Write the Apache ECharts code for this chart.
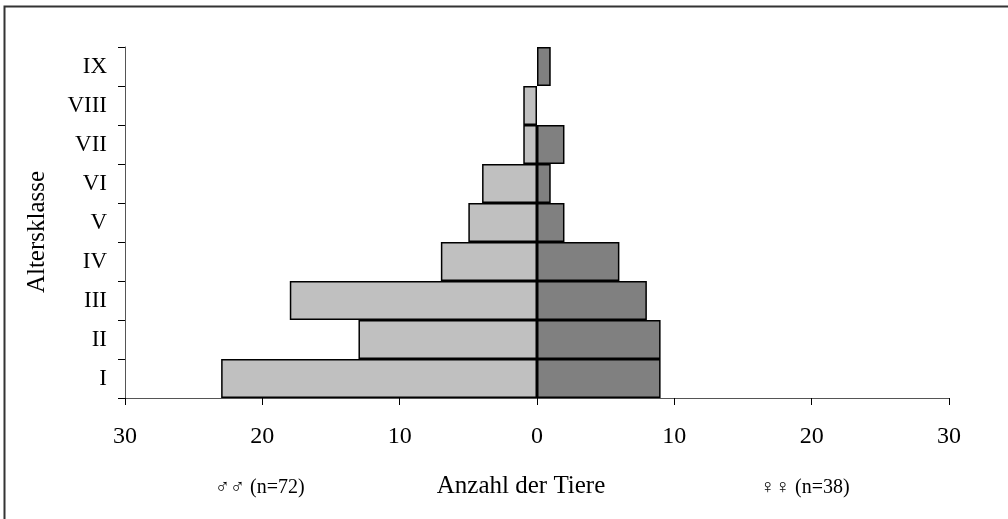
<!DOCTYPE html>
<html>
<head>
<meta charset="utf-8">
<script src="https://cdn.jsdelivr.net/npm/echarts@6/dist/echarts.min.js"></script>
<style>
  html, body { margin: 0; padding: 0; background: #fff; }
  #main { width: 1008px; height: 519px; }
</style>
</head>
<body>
<div id="main"></div>
<script>
// Altersklassen von unten nach oben
var classes = ['I', 'II', 'III', 'IV', 'V', 'VI', 'VII', 'VIII', 'IX'];
var males = [23, 13, 18, 7, 5, 4, 1, 1, 0];     // Männchen (n=72)
var females = [9, 9, 8, 6, 2, 1, 2, 0, 1];      // Weibchen (n=38)
var xTicks = [-30, -20, -10, 0, 10, 20, 30];

var serif = '"Liberation Serif", "DejaVu Serif", serif';

// leere Klassen nicht zeichnen
function bars(arr, sign) {
    return arr.map(function (v) { return v === 0 ? null : sign * v; });
}

var myChart = echarts.init(document.getElementById('main'));
var option = {
    backgroundColor: '#fff',
    animation: false,
    grid: { left: 125, right: 59, top: 47, bottom: 121 },
    xAxis: {
        type: 'value',
        min: xTicks[0],
        max: xTicks[xTicks.length - 1],
        interval: 10,
        axisLine: { show: true, onZero: false, lineStyle: { color: '#555', width: 1 } },
        axisTick: { show: true, length: 7, lineStyle: { color: '#000', width: 1 } },
        axisLabel: {
            margin: 27,
            fontFamily: serif,
            fontSize: 24,
            color: '#000',
            formatter: function (v) { return Math.abs(v); }
        },
        splitLine: { show: false }
    },
    yAxis: {
        type: 'category',
        data: classes,
        axisLine: { show: true, onZero: false, lineStyle: { color: '#555', width: 1 } },
        axisTick: { show: true, length: 7, lineStyle: { color: '#000', width: 1 } },
        axisLabel: { margin: 18, fontFamily: serif, fontSize: 23, color: '#000' }
    },
    series: [
        {
            name: 'Männchen',
            type: 'bar',
            data: bars(males, -1),
            barGap: '-100%',
            barCategoryGap: 0,
            itemStyle: { color: '#c0c0c0', borderColor: '#000', borderWidth: 1.5 }
        },
        {
            name: 'Weibchen',
            type: 'bar',
            data: bars(females, 1),
            barGap: '-100%',
            barCategoryGap: 0,
            itemStyle: { color: '#808080', borderColor: '#000', borderWidth: 1.5 }
        }
    ],
    graphic: [
        {
            type: 'rect',
            shape: { x: 4.5, y: 6.5, width: 1010, height: 520 },
            style: { fill: 'none', stroke: '#333', lineWidth: 2 },
            silent: true
        },
        {
            type: 'text',
            x: 37,
            y: 232,
            rotation: Math.PI / 2,
            style: {
                text: 'Altersklasse', font: '25px ' + serif, fill: '#000',
                align: 'center', verticalAlign: 'middle'
            }
        },
        {
            type: 'text',
            x: 521,
            y: 486,
            style: {
                text: 'Anzahl der Tiere', font: '25px ' + serif, fill: '#000',
                align: 'center', verticalAlign: 'middle'
            }
        },
        {
            type: 'text',
            left: 215,
            top: 478,
            style: { text: '\u2642\u2642 (n=72)', font: '20px ' + serif, fill: '#000' }
        },
        {
            type: 'text',
            left: 760,
            top: 478,
            style: { text: '\u2640\u2640 (n=38)', font: '20px ' + serif, fill: '#000' }
        }
    ]
};
myChart.setOption(option);
</script>
</body>
</html>
